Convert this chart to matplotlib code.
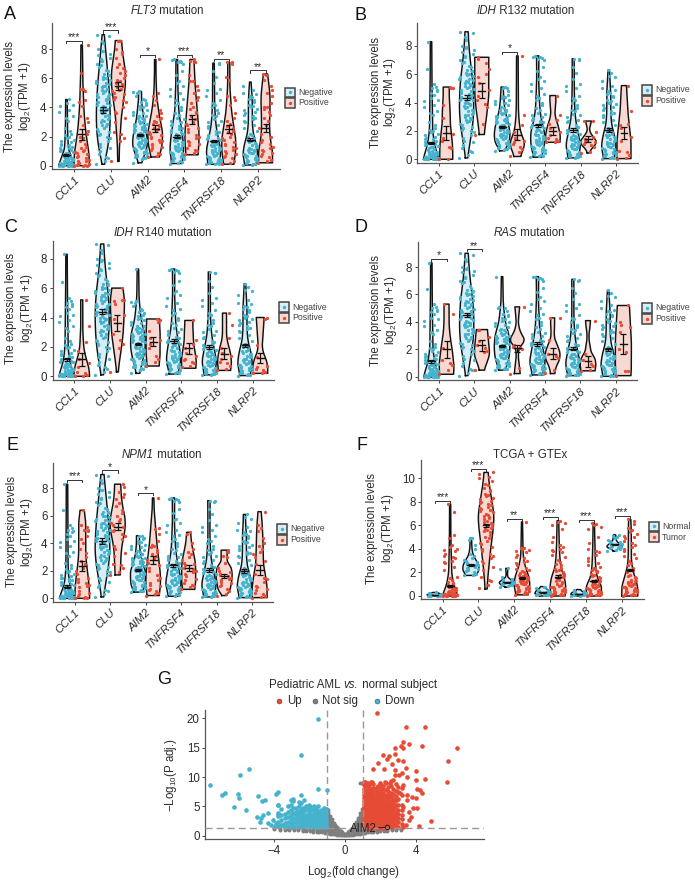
import numpy as np
import matplotlib
matplotlib.use("Agg")
import matplotlib.pyplot as plt
from matplotlib.patches import Rectangle

plt.rcParams['font.family'] = ['Liberation Sans', 'DejaVu Sans']
plt.rcParams['mathtext.default'] = 'regular'

GENES = ['CCL1', 'CLU', 'AIM2', 'TNFRSF4', 'TNFRSF18', 'NLRP2']

# ---- points of the large "negative" group, shared by the mutation panels
NEG_CCL1 = [8.3,6.4,5.3,5.1,5.0,4.9,4.8,4.7,4.55,4.3,4.2,4.1,3.8,3.7,3.4,3.3,3.1,2.6,2.4,2.2,2.1,2.0,1.9,1.8,1.7,1.6,1.5,1.45,1.4,1.3,1.25,1.2,1.1,1.05,1.0,.95,.9,.85,.8,.75,.7,.65,.6,.55,.5,.48,.45,.4,.38,.35,.33,.3,.28,.25,.22,.2,.18,.16,.15,.12,.1,.09,.08,.06,.05,.04,.03,.02,.01,0,0,0,0,0]
NEG_CLU = [9.0,8.9,8.6,8.4,8.0,7.9,7.85,7.7,7.6,7.4,7.3,7.2,7.0,6.9,6.8,6.6,6.5,6.3,6.25,6.2,6.1,6.0,5.95,5.9,5.8,5.7,5.65,5.6,5.5,5.45,5.4,5.3,5.25,5.2,5.1,5.0,4.95,4.9,4.8,4.75,4.7,4.6,4.55,4.5,4.4,4.35,4.3,4.2,4.15,4.1,4.0,3.95,3.9,3.8,3.75,3.7,3.6,3.5,3.45,3.4,3.3,3.2,3.15,3.1,3.0,2.9,2.85,2.8,2.7,2.6,2.5,2.4,2.3,2.2,2.1,2.0,1.9,1.7,1.5,1.3,1.2,1.0,.8,.6,.5,.3,.1]
NEG_AIM2 = [7.3,5.1,5.05,5.0,4.8,4.55,4.5,4.4,4.3,4.2,4.1,4.0,3.9,3.8,3.7,3.6,3.5,3.45,3.4,3.3,3.25,3.2,3.1,3.05,3.0,2.95,2.9,2.85,2.8,2.75,2.7,2.65,2.6,2.55,2.5,2.45,2.4,2.35,2.3,2.25,2.2,2.15,2.1,2.05,2.0,1.95,1.9,1.85,1.8,1.75,1.7,1.65,1.6,1.55,1.5,1.45,1.4,1.35,1.3,1.25,1.2,1.15,1.1,1.05,1.0,.95,.9,.85,.8,.75,.7,.65,.6,.55,.5,.45,.2]
NEG_TF4 = [7.3,7.25,7.2,7.15,7.1,7.0,6.5,6.2,5.8,5.7,5.5,5.3,5.0,4.8,4.6,4.5,4.3,4.2,4.0,3.8,3.6,3.5,3.3,3.2,3.1,3.0,2.9,2.8,2.7,2.6,2.5,2.45,2.4,2.35,2.3,2.2,2.15,2.1,2.0,1.95,1.9,1.8,1.75,1.7,1.65,1.6,1.5,1.45,1.4,1.35,1.3,1.25,1.2,1.15,1.1,1.05,1.0,.95,.9,.85,.8,.75,.7,.65,.6,.55,.5,.45,.4,.35,.3,.25,.2,.15]
NEG_TF18 = [7.1,7.05,7.0,6.5,6.1,5.7,5.3,5.2,5.0,4.8,4.5,4.3,4.2,4.0,3.8,3.6,3.5,3.4,3.2,3.1,3.0,2.8,2.7,2.6,2.4,2.3,2.2,2.1,2.0,1.9,1.85,1.8,1.7,1.65,1.6,1.55,1.5,1.45,1.4,1.35,1.3,1.25,1.2,1.15,1.1,1.05,1.0,.95,.9,.85,.8,.75,.7,.65,.6,.55,.5,.45,.4,.38,.35,.3,.28,.25,.22,.2,.18,.15,.12,.1]
NEG_NLRP2 = [6.3,6.1,5.9,5.8,5.5,5.2,5.0,4.9,4.8,4.7,4.6,4.5,4.4,4.2,4.1,4.0,3.9,3.8,3.7,3.6,3.5,3.4,3.3,3.2,3.1,3.0,2.8,2.6,2.4,2.2,2.1,2.0,1.9,1.8,1.75,1.7,1.6,1.55,1.5,1.4,1.35,1.3,1.2,1.15,1.1,1.05,1.0,.95,.9,.85,.8,.75,.7,.65,.6,.55,.5,.45,.4,.35,.3,.25,.2,.15,.1,.08,.05]
NEG_POINTS = [NEG_CCL1, NEG_CLU, NEG_AIM2, NEG_TF4, NEG_TF18, NEG_NLRP2]

# ---- Panel A: FLT3
A_NEG_RANGE = [(0,4.55),(.1,9),(.2,5.1),(.15,7.3),(.1,7.05),(.05,5.75)]
A_NEG_PROFILE = [[8,5,2,1.5,1.2,1,1,1,.7],[1,4.5,6.5,7,6.5,5.5,4,2.5,1],[1.5,5,7.5,7,5,3.5,2.5,1.5,1.5],[5,7,6,4,2,1.5,1,1,.8],[5.5,7.5,5,2.5,1.5,1,1,1,.7],[5.5,7.5,6,3,2,2,2,1.5,.7]]
A_NEG_MEAN = [.75,3.85,2.1,2.0,1.7,1.8]
A_NEG_SEM = [.08,.2,.08,.12,.1,.1]
A_POS_RANGE = [(0,8.3),(.3,8.6),(.6,7.3),(.75,7.3),(.1,7.1),(.2,6.3)]
A_POS_PROFILE = [[8,7,4.5,3,2,1.5,1,1,.7],[.7,1,2,3,5,7,7,4.5,3],[4,7,7.5,5,3,1.5,1,.7,.7],[6,7,7,6,5,4,3,2.5,2],[5,7,7,5,3,2,1.2,1,1],[7,7,5,4,4,4.5,4.5,3.5,2]]
A_POS_MEAN = [2.15,5.5,2.55,3.2,2.5,2.6]
A_POS_SEM = [.35,.27,.25,.3,.28,.3]
A_POS_POINTS = [
 [8.3,6.4,5.3,5.25,5.1,4.5,4.4,4.1,3.4,3.3,3.0,2.8,2.4,2.2,2.0,1.9,1.7,1.5,1.3,1.2,1.1,1.0,.95,.9,.8,.7,.6,.5,.4,.35,.3,.2,.15,.1,.05,.02,0,0,0],
 [8.6,8.6,8.0,7.8,7.7,7.4,7.0,6.8,6.7,6.5,6.4,6.2,6.0,5.9,5.8,5.7,5.6,5.5,5.4,5.3,5.2,5.1,5.0,4.9,4.7,4.6,4.5,4.4,4.0,3.7,3.6,3.3,3.0,2.3,2.2,1.9,1.7,.3],
 [7.3,5.0,4.8,4.5,4.2,3.8,3.6,3.4,3.3,3.2,3.1,3.0,2.9,2.8,2.7,2.6,2.5,2.4,2.3,2.2,2.1,2.0,1.9,1.8,1.7,1.6,1.5,1.4,1.3,1.2,1.1,.9,.8,.7,.6],
 [7.3,7.2,7.1,7.1,6.2,5.8,5.8,5.5,5.2,5.0,4.7,4.5,4.3,4.0,3.9,3.7,3.6,3.4,3.2,3.0,2.9,2.8,2.6,2.5,2.3,2.1,2.0,1.9,1.7,1.6,1.5,1.4,1.2,1.1,1.0,.9,.8],
 [7.1,7.1,7.0,6.1,5.9,4.8,4.7,4.5,4.2,3.6,3.3,3.1,2.9,2.7,2.6,2.4,2.3,2.2,2.0,1.9,1.8,1.6,1.5,1.4,1.3,1.2,1.1,1.0,.9,.8,.7,.6,.5,.3,.2,.1],
 [6.3,6.2,5.9,5.5,5.2,5.0,4.8,4.3,4.0,4.0,3.9,3.7,3.5,3.3,3.1,2.8,2.6,2.2,2.0,1.8,1.6,1.5,1.3,1.2,1.1,1.0,.9,.8,.7,.6,.4,.3,.2],
]
A_BRACKET_Y = [8.6,9.3,7.6,7.6,7.35,6.55]
A_STARS = ['***','***','*','***','**','**']

# ---- Panel B: IDH R132
B_NEG_RANGE = [(0,8.3),(.1,9),(.6,5.1),(.15,7.3),(.1,7.1),(.05,6.3)]
B_NEG_PROFILE = [[8,3.5,1.5,1.3,1.2,1,.8,.8,.7],[1,3.5,6,7.2,7,6,4,2.5,1.5],[2,7,8,7,5,3,2,1.5,1],[4,7,7,3.5,2,1.5,1,1,1.2],[5,7.5,5,2.5,1.5,1.2,1,1,1],[5,7.5,6,3,2,2,2,1.3,.7]]
B_NEG_MEAN = [1.15,4.35,2.27,2.4,2.05,2.05]
B_NEG_SEM = [.1,.17,.07,.12,.13,.13]
B_POS_RANGE = [(0,5.1),(1.75,7.2),(.2,7.3),(1.2,4.5),(.45,2.7),(.05,5.2)]
B_POS_PROFILE = [[6.5,6.5,6,5,4,4,3.5,3,3],[2.5,3.5,5,6,7,7,7,7,7],[3,8,3,1.5,1,1,1,.8,.8],[7,7.5,6.5,5,3,2,2.5,3,3],[1,3,7,8,5,2,1,2,3],[7,7,7,6,5,4,3.5,3,2.5]]
B_POS_MEAN = [1.85,4.85,1.75,2.0,1.45,1.85]
B_POS_SEM = [.5,.5,.4,.28,.22,.42]
B_POS_POINTS = [
 [5.1,5.05,5.05,3.8,2.9,1.8,1.5,1.3,.9,.8,0,0],
 [7.2,7.1,6.8,6.4,6.0,5.8,5.4,4.9,4.5,4.2,3.9,3.7,2.5,1.75],
 [7.3,3.1,2.4,1.9,1.5,1.3,1.2,1.1,.9,.7,.5,.2],
 [4.5,3.1,2.8,2.5,2.2,1.9,1.7,1.5,1.4,1.3,1.25,1.2],
 [2.7,2.7,1.9,1.6,1.4,1.3,1.25,1.2,1.1,1.0,.9,.5,.45],
 [5.2,3.4,2.5,2.4,2.2,1.6,1.3,.6,.5,.3,.1,.05],
]
B_BRACKET_Y = [None,None,7.6,None,None,None]
B_STARS = ['','','*','','','']

# ---- Panel C: IDH R140
C_NEG_RANGE = [(0,8.3),(.1,9),(.2,7.3),(.15,7.3),(.1,7.1),(.05,6.3)]
C_NEG_PROFILE = [[8,3,1.5,1.3,1.2,1,.8,.8,.7],[1,4,6,7,7,6,4,2.5,1.5],[1.5,5,7.5,7,3.5,2,1,1,.7],[4,7.5,6,3.5,2,1.5,1,1,1.2],[5,7.5,5,2.5,1.5,1,1,1,1],[5,7.5,6,3,2,2,2,1.3,.7]]
C_NEG_MEAN = [1.15,4.4,2.2,2.4,2.0,2.1]
C_NEG_SEM = [.1,.15,.08,.12,.12,.12]
C_POS_RANGE = [(0,5.2),(.3,6),(.7,3.9),(.55,3.8),(.4,4.3),(.2,4)]
C_POS_PROFILE = [[8,7,4,2,1.5,1,1,1,1],[.8,2,3.5,5,6,6.5,7,7,5.5],[6,6.5,7,7,7,7,7,6.5,6.5],[7,7.5,7,6,5,4.5,4.5,4,4],[6,7,6.5,5,3,2,2,2,2],[7.5,7.5,6,3,2,2.5,3,3.5,4]]
C_POS_MEAN = [1.15,3.6,2.35,1.9,1.55,1.25]
C_POS_SEM = [.45,.55,.3,.35,.38,.35]
C_POS_POINTS = [
 [5.2,3.4,2.3,1.7,1.2,.9,.6,.3,.2,.1,0,0],
 [6.0,5.2,5.2,5.1,4.9,4.2,3.9,2.9,2.5,2.2,1.9,.3],
 [3.9,3.8,3.7,3.1,2.6,2.5,2.2,1.9,1.4,1.2,1.0,.7],
 [3.8,2.5,2.2,1.9,1.6,1.4,1.2,1.1,1.0,.9,.7,.6],
 [4.3,3.5,2.6,1.9,1.6,1.4,1.2,1.0,.9,.7,.5,.4],
 [4.0,3.9,2.1,1.3,.7,.6,.5,.4,.3,.25,.2],
]

# ---- Panel D: RAS
D_NEG_RANGE = [(0,8.3),(.1,9),(.5,7.3),(.15,7.3),(.1,7.1),(.05,6.3)]
D_NEG_PROFILE = [[8,3.5,1.5,1.3,1.2,1,.8,.8,.7],[1,3.5,6,7.2,7,6,4,2.5,1.5],[3,7,8,7,3.5,2,1,1,.7],[5,8,6,3.5,2,1.5,1,1,1.2],[5,7.5,5,2.5,1.5,1,1,1,1],[5,7.5,6,3,2,2,2,1.3,.7]]
D_NEG_MEAN = [1.15,4.5,2.25,2.4,2.05,2.0]
D_NEG_SEM = [.1,.17,.07,.12,.12,.12]
D_POS_RANGE = [(.2,5.3),(.5,3.45),(.25,5.1),(.25,4.3),(.45,4.1),(.1,5.2)]
D_POS_PROFILE = [[7,7.5,6.5,5.5,4,3,2.5,2.5,2.5],[2.5,4,6,7.5,7.5,7,6.5,6,5.5],[3,2,1,1.5,8,3,1,1.5,2.5],[2,3.5,7,7.5,5,2,1.5,2,2],[7,8,7,3,2,1,1,2,2.5],[7.5,8,8,8,8,7.5,7,6.5,6]]
D_POS_MEAN = [2.0,2.3,2.1,1.7,1.15,2.4]
D_POS_SEM = [.65,.4,.25,.42,.4,.7]
D_POS_POINTS = [
 [5.3,4.6,2.1,1.2,1.0,.9,.5,.2],
 [3.45,3.4,2.9,2.6,2.3,2.1,1.9,1.8,.5],
 [5.1,2.3,2.2,2.1,2.05,.65,.25],
 [4.3,4.3,2.7,1.7,1.5,1.4,.5,.3],
 [4.1,1.7,1.2,.95,.8,.5,.45,.4,.35],
 [5.2,4.0,3.8,3.6,3.3,2.0,1.8,.45,.4,.1],
]
D_BRACKET_Y = [8.58,9.29,None,None,None,None]
D_STARS = ['*','**','','','','']

# ---- Panel E: NPM1
E_NEG_RANGE = [(0,8.3),(.1,9),(.45,4.55),(.15,7.3),(.1,7.1),(.05,6.1)]
E_NEG_PROFILE = [[8,2.5,1.2,1,1,.8,.8,.8,.7],[1,3.5,6,7.5,7,6,4.5,3,1.5],[4,7,7.5,7.5,5,3,2,1.5,1.5],[5,8,6,3.5,2,1.5,1,1,1.2],[5,7.5,5,2.5,1.5,1,1,1,1.2],[5,7.5,6,3,2,2,2,1.3,1]]
E_NEG_MEAN = [.85,4.15,2.05,2.4,2.05,2.0]
E_NEG_SEM = [.1,.2,.08,.13,.13,.13]
E_POS_RANGE = [(0,6.4),(1.7,8.3),(.2,7.3),(.65,4.8),(.2,3.5),(.05,6.3)]
E_POS_PROFILE = [[7.5,7,6,4.5,3.5,3.5,3.5,3.5,2],[2.5,3,3.5,5,7.5,7.5,5,3.5,3],[6,7.5,7,5.5,4,3,2,1,.7],[6,7,7,7,6.5,5,3.5,2.5,2],[2,6,7,8,8,7,3,3,3],[7.5,7.5,6,4,3.5,3.5,3,2.5,1.5]]
E_POS_MEAN = [2.35,5.2,2.8,2.2,1.6,2.05]
E_POS_SEM = [.35,.25,.3,.23,.15,.35]
E_POS_POINTS = [
 [6.4,5.3,5.2,5.0,5.0,4.9,4.5,4.3,4.0,3.6,3.3,3.0,2.7,2.5,2.2,2.0,1.8,1.5,1.4,1.2,1.1,1.0,.9,.8,.5,.4,.3,.2,.1,.05,0,0],
 [8.3,8.1,7.7,7.6,7.4,7.2,6.9,6.7,6.4,6.2,6.0,5.8,5.6,5.5,5.3,5.2,5.0,4.9,4.7,4.5,4.3,3.8,3.6,3.3,3.1,2.5,2.4,2.2,1.9,1.7],
 [7.3,5.1,5.05,4.7,4.2,3.9,3.8,3.7,3.5,3.4,3.2,3.1,2.9,2.8,2.6,2.4,2.2,2.0,1.7,1.5,1.3,1.1,1.0,.9,.7,.6,.5,.4,.3,.2],
 [4.8,4.7,4.0,3.6,3.4,3.2,3.0,2.8,2.6,2.5,2.4,2.2,2.1,2.0,1.9,1.8,1.6,1.4,1.3,1.1,1.0,.9,.8,.65],
 [3.5,3.4,3.1,3.0,2.6,2.2,2.0,1.9,1.8,1.7,1.6,1.5,1.4,1.3,1.2,1.1,1.0,.9,.7,.5,.3,.2],
 [6.3,5.3,5.1,4.9,4.4,4.0,3.8,3.6,3.4,3.2,3.0,2.7,2.5,1.8,1.5,1.4,1.2,.9,.8,.7,.6,.4,.3,.2,.1,.05],
]
E_BRACKET_Y = [8.6,9.3,7.64,None,None,None]
E_STARS = ['***','*','*','','','']

# ---- Panel F: TCGA + GTEx
F_NEG_RANGE = [(0,.3),(1.75,4.95),(.75,2.35),(0,.8),(0,.55),(3.8,5.2)]
F_NEG_PROFILE = [[7,8,5,2],[5,8,8,6,3,1.5,1,.8,.7],[1,6,8,5,1.5,.7,.7,1,1],[3,8,7,4,2],[3,8,7,3,2],[1,3,8,7,4,2,1.5,1.5,1]]
F_NEG_MEAN = [.08,2.65,1.15,.3,.15,4.4]
F_NEG_SEM = [.01,.06,.03,.02,.015,.03]
F_NEG_POINTS = [
 [.3,.25,.2,.18,.15,.12,.1,.1,.08,.07,.06,.05,.05,.04,.03,.03,.02,.01],
 [4.95,4.9,4.8,4.3,4.0,3.6,3.4,3.2,3.1,3.0,2.9,2.8,2.7,2.6,2.6,2.5,2.4,2.4,2.3,2.2,2.1,2.0,1.9,1.8,1.75],
 [2.35,2.3,1.6,1.45,1.35,1.3,1.25,1.2,1.2,1.15,1.1,1.1,1.05,1.0,.95,.9,.85,.75],
 [.8,.75,.65,.55,.5,.45,.4,.35,.33,.3,.28,.25,.22,.2,.18,.15,.12,.1,.05],
 [.55,.45,.38,.3,.27,.22,.2,.18,.16,.14,.12,.1,.08,.06,.04,.02],
 [5.2,5.1,5.0,4.9,4.8,4.7,4.6,4.55,4.5,4.45,4.4,4.35,4.3,4.25,4.2,4.15,4.1,4.05,4.0,3.9,3.8],
]
F_POS_RANGE = [(0,7.8),(.6,10.5),(.1,6.3),(0,6.4),(0,6.2),(0,6.5)]
F_POS_PROFILE = [[8,3.5,1.5,1.2,1,.7,.7,.7,.5],[1,2,3.5,5,7,8,6,3.5,2],[6,8,7,3.5,1.5,1,.8,.7,.5],[7,8,6.5,3,2,1.5,1.2,1,.8],[7,8,3.5,2,1.5,1.2,1,.8,.7],[8,8,5,2.5,1.5,1.5,1.5,1.5,1]]
F_POS_MEAN = [.85,6.0,1.55,1.65,1.25,2.2]
F_POS_SEM = [.12,.15,.08,.1,.08,.1]
F_POS_POINTS = [
 [7.8,7.1,5.2,4.9,4.3,4.2,4.0,3.9,3.8,3.6,3.4,3.3,3.2,3.0,2.9,2.8,2.5,2.2,1.6,1.5,1.4,1.2,1.1,1.0,.9,.85,.8,.7,.65,.6,.55,.5,.45,.4,.35,.3,.28,.25,.22,.2,.18,.16,.14,.12,.1,.1,.08,.08,.06,.06,.05,.04,.03,.02,.01,0,0],
 [10.5,10.4,10.1,10.0,9.8,9.5,9.4,9.2,9.0,8.9,8.7,8.6,8.5,8.3,8.2,8.1,8.0,7.9,7.8,7.7,7.6,7.5,7.4,7.3,7.2,7.1,7.0,6.9,6.8,6.7,6.6,6.5,6.4,6.3,6.2,6.1,6.0,5.9,5.8,5.7,5.6,5.5,5.4,5.2,5.0,4.9,4.7,4.5,4.4,4.2,4.0,3.8,3.6,3.4,3.2,3.0,2.8,2.5,2.2,1.6,1.4,1.3,.9,.7],
 [6.3,4.1,4.05,4.0,3.9,3.8,3.7,3.5,3.3,3.2,3.0,2.9,2.8,2.6,2.4,2.3,2.2,2.1,2.0,1.95,1.9,1.8,1.75,1.7,1.65,1.6,1.55,1.5,1.45,1.4,1.35,1.3,1.25,1.2,1.15,1.1,1.05,1.0,.95,.9,.85,.8,.75,.7,.65,.6,.55,.5,.45,.4,.35,.3,.25,.2,.1],
 [6.4,6.3,6.2,6.0,5.7,5.0,4.6,4.3,4.2,4.0,3.9,3.8,3.7,3.5,3.3,3.1,2.9,2.7,2.6,2.4,2.3,2.2,2.1,2.0,1.9,1.8,1.7,1.6,1.5,1.4,1.3,1.2,1.1,1.0,.9,.85,.8,.75,.7,.65,.6,.55,.5,.45,.4,.35,.3,.25,.2,.15,.1,.05,0],
 [6.2,6.1,6.0,5.9,5.7,5.0,4.5,4.0,3.8,3.7,3.5,3.2,3.0,2.8,2.6,2.5,2.4,2.3,2.2,2.1,2.0,1.9,1.8,1.7,1.6,1.5,1.4,1.3,1.2,1.1,1.0,.95,.9,.85,.8,.75,.7,.65,.6,.55,.5,.45,.4,.35,.3,.25,.2,.18,.15,.12,.1,.08,.05,.02],
 [6.5,6.4,6.1,5.8,5.6,5.4,5.3,5.1,5.0,4.9,4.7,4.5,4.3,4.2,4.0,3.8,3.6,3.4,3.2,3.0,2.8,2.6,2.4,2.2,2.0,1.8,1.7,1.6,1.5,1.4,1.3,1.25,1.2,1.15,1.1,1.05,1.0,.95,.9,.85,.8,.75,.7,.65,.6,.55,.5,.45,.4,.35,.3,.25,.2,.15,.1,.05,0],
]
F_BRACKET_Y = [8.07,10.8,6.54,6.74,6.46,6.8]
F_STARS = ['***','***','**','***','***','***']

# ---- Panel G: volcano, read column by column in the dense areas
UP_DENSE_X = [1.06,1.2,1.33,1.47,1.6,1.74,1.88,2.02,2.16,2.3,2.44,2.58,2.72,2.86,3.02,3.2]
UP_DENSE_Y = [
 [1.4,1.9,2.4,2.9,3.4,3.9,4.4,4.9,5.4,5.9,6.4,6.9,7.5,8.0,8.6,9.2],
 [1.35,1.7,2.2,2.7,3.2,3.7,4.2,4.7,5.2,5.7,6.2,6.7,7.2,7.8,8.4,9.0],
 [1.3,1.85,2.35,2.85,3.35,3.85,4.35,4.85,5.35,5.85,6.35,6.9,7.4,8.1,8.7],
 [1.4,1.7,2.2,2.7,3.2,3.7,4.2,4.7,5.2,5.7,6.2,6.7,7.3,7.9,9.2],
 [1.3,1.9,2.4,2.9,3.4,3.9,4.4,4.9,5.4,5.9,6.4,7.0,7.6,8.2,8.8],
 [1.35,1.75,2.25,2.75,3.25,3.75,4.25,4.75,5.25,5.75,6.3,6.8,7.4,8.0],
 [1.3,1.9,2.4,2.9,3.4,3.9,4.4,4.9,5.4,5.9,6.5,7.0,7.7,8.5],
 [1.4,1.75,2.25,2.75,3.25,3.75,4.25,4.75,5.25,5.75,6.2,6.8,7.3,7.9,8.6],
 [1.3,1.9,2.4,2.9,3.4,3.9,4.4,4.9,5.4,6.0,6.6,7.2,8.0,8.4],
 [1.35,1.75,2.3,2.8,3.3,3.8,4.3,4.8,5.3,5.8,6.4,7.0,7.8,9.0],
 [1.4,1.95,2.45,2.95,3.45,3.95,4.45,5.0,5.6,6.2,6.9,7.6,8.3],
 [1.5,2.0,2.5,3.0,3.6,4.1,4.7,5.2,5.9,6.6,7.2,8.4,9.4],
 [1.6,2.1,2.6,3.2,3.7,4.3,4.9,5.6,6.3,7.1,7.9],
 [1.6,2.2,2.8,3.4,4.0,4.6,5.3,6.0,6.7,7.6,8.8],
 [1.5,2.3,3.0,3.7,4.4,5.2,6.2,7.5],
 [2.0,2.8,3.6,4.3,5.3,7.0,8.2],
]
UP_SCATTER_X = [1.83,3.43,4.55,6.34,5.85,5.79,4.87,4.19,3.3,3.64,3.3,4.38,3.15,2.83,2.17,2.83,2.5,2.36,3.02,3.26,1.87,2.64,1.6,2.2,3.47,2.83,4.02,3.2,2.83,3.08,4.55,3.49,4.0,4.25,4.06,4.34,3.8,3.5,4.0,3.87,4.06,3.74,3.6,3.45,3.3,3.02,3.3,2.55,2.26,1.98,1.5,1.32,1.13,2.74,1.8,3.5,3.3,3.6,3.1,2.9]
UP_SCATTER_Y = [20.85,18.6,18.6,14.9,12.8,9.2,2.5,1.65,15,15.7,16,15.35,15.3,14.9,13.75,14,13.6,13,12.9,12.7,12.3,12.2,11.3,11.4,11.5,11.2,11,10.6,10.3,10.3,9.7,10,9.5,7.8,7.9,7.2,6.6,6.9,6.4,4.65,4.65,3.2,2.7,1.8,1.5,8.35,8.6,8.9,9.2,8.9,9.2,9,9.2,9.5,8.3,6.1,4.9,4.1,7.2,6]
DOWN_DENSE_X = [-1.07,-1.2,-1.35,-1.5,-1.62,-1.77,-1.9,-2.05,-2.2,-2.35,-2.48,-2.62,-2.78,-2.92,-3.08,-3.25,-3.42,-3.6,-3.78]
DOWN_DENSE_Y = [
 [1.4,1.9,2.4,2.9,3.4,3.9,4.6],
 [1.5,2.1,2.6,3.1,3.7,4.2,4.8],
 [1.4,1.8,2.3,2.8,3.3,3.9,4.4],
 [1.5,2.0,2.6,3.1,3.6,4.2,5.1],
 [1.4,1.9,2.4,2.9,3.5,4.0,4.7],
 [1.5,2.1,2.6,3.2,3.8,4.4,5.0],
 [1.4,1.9,2.4,3.0,3.5,4.3,4.9],
 [1.6,2.2,2.7,3.3,3.9,4.5,5.3],
 [1.4,1.9,2.5,3.1,3.6,4.4,5.0],
 [1.6,2.2,2.8,3.4,4.0,4.7],
 [1.4,1.9,2.5,3.2,3.8,4.5,5.5],
 [1.7,2.3,3.0,3.6,4.2,5.0,5.8],
 [1.5,2.1,2.8,3.5,4.1,4.8],
 [1.8,2.4,3.1,3.9,4.7,5.9],
 [1.5,2.1,2.8,3.5,4.3,5.2,6.0],
 [1.7,2.4,3.2,4.0,5.0],
 [1.5,2.1,3.0,3.7],
 [1.8,2.6,3.5,4.5],
 [1.6,2.4,3.3,3.9,5.2],
]
DOWN_SCATTER_X = [-1.55,-2.5,-5.43,-5.92,-7.64,-6.8,-6.96,-6.04,-6.0,-6.28,-5.58,-4.92,-4.53,-4.7,-3.81,-3.9,-2.5,-1.55,-1.04,-5.0,-4.66,-4.77,-4.81,-4.34,-4.34,-4.06,-3.77,-3.8,-3.9,-3.95,-4.2,-3.55,-2.95,-2.3]
DOWN_SCATTER_Y = [19.95,13.75,11.35,10.4,8.6,7.2,7.0,7.1,6.4,4.95,4.4,6.75,6.1,5.9,7.5,7.05,7.0,7.95,7.8,3.25,3.5,2.95,2.27,3.9,2.1,2.67,5.2,3.7,2.2,1.7,1.8,1.8,6.2,6.1]
GREY_X = [-4.0,-3.7,-3.4,-3.15,-2.9,-2.65,-2.4,-2.2,-2.0,-1.8,-1.6,-1.45,-1.3,-1.15,-1.03,-.95,-.85,-.75,-.65,-.55,-.45,-.35,-.25,-.15,-.05,.05,.15,.25,.35,.45,.55,.65,.75,.85,.95,1.03,1.15,1.3,1.45,1.6,1.8,2.0,2.2,2.4,2.65,2.9,3.15]
GREY_Y = [
 [1.15,1.25],[1.05,1.2],[1.05,1.25],[1.0,1.2],[.95,1.15],[.9,1.1,1.25],[.85,1.05,1.25],[.8,1.0,1.2],[.75,.95,1.2],[.7,.9,1.1],[.65,.85,1.05,1.25],[.6,.8,1.05,1.2],[.55,.75,1.0,1.2],[.5,.75,1.0,1.2],
 [.45,.7,1.0,1.3,1.7,2.1,2.5,2.9,3.3,3.7,4.1,4.5],[.4,.7,1.0,1.3,1.7,2.1,2.5,2.9,3.3,3.7,4.1,4.4],[.35,.65,.95,1.3,1.7,2.1,2.5,2.9,3.3],[.3,.6,.95,1.3,1.6,2.0,2.4,2.8],[.3,.55,.85,1.2,1.5,1.9,2.2],[.25,.5,.8,1.1,1.4,1.7,1.9],[.2,.45,.7,1.0,1.4],[.15,.4,.6,.9,1.1],[.12,.3,.5,.7,.85],[.1,.25,.4,.55],[.05,.2,.3,.35],
 [.05,.2,.3,.35],[.1,.25,.4,.55],[.12,.3,.5,.7,.85],[.15,.4,.6,.9,1.1],[.2,.45,.7,1.0,1.4],[.25,.5,.8,1.1,1.4,1.7,2.0],[.3,.55,.85,1.2,1.6,2.0,2.4],[.3,.6,1.0,1.3,1.7,2.1,2.6,3.1],[.35,.65,.95,1.3,1.7,2.1,2.6,3.0,3.4,3.8,8.9],[.4,.7,1.0,1.3,1.7,2.1,2.5,2.9,3.3,3.7,4.1,4.5,9.0],
 [.45,.7,1.0,1.25],[.5,.75,1.0,1.2],[.55,.75,1.0,1.2],[.6,.8,1.05,1.2],[.65,.85,1.05,1.25],[.7,.9,1.1],[.75,.95,1.2],[.8,1.0,1.2],[.85,1.05,1.25],[.9,1.1,1.25],[.95,1.15],[1.0,1.2]]
GREY_EXTRA_X = [-3.2]
GREY_EXTRA_Y = [1.1]
AIM2_FC = 2.4
AIM2_P = 1.42
FC_CUTS = [-1, 1]
P_CUT = 1.3

BLUE, RED, GREY = '#45B2CE', '#E64B35', '#7F7F7F'
BLUE_L, RED_L = '#D8EEF4', '#F9D8D2'
TXT = '#2b2b2b'
FS = 8.3
W, H = 695, 881
fig = plt.figure(figsize=(W/100, H/100), dpi=100)
ov = fig.add_axes([0, 0, 1, 1], zorder=10)
ov.set_xlim(0, W); ov.set_ylim(H, 0); ov.axis('off')
RENDERER = fig.canvas.get_renderer()


def mixed_title(cx, cy, parts):
    """Centre a run of (string, style) pieces on one line."""
    widths = []
    items = []
    for s, st in parts:
        t = ov.text(0, cy, s, ha='left', va='center', fontsize=FS, color=TXT, style=st)
        widths.append(t.get_window_extent(RENDERER).width)
        items.append(t)
    x = cx - sum(widths)/2
    for t, w in zip(items, widths):
        t.set_x(x)
        x += w


def base_axes(l, r, t, b, y0, ppu):
    ax = fig.add_axes([l/W, 1-b/H, (r-l)/W, (b-t)/H])
    ax.set_ylim((y0-b)/ppu, (y0-t)/ppu)
    for s in ('top', 'right'):
        ax.spines[s].set_visible(False)
    for s in ('left', 'bottom'):
        ax.spines[s].set_color('#555555'); ax.spines[s].set_linewidth(.9)
    ax.tick_params(length=2.5, width=.7, color='#444444', labelcolor=TXT, labelsize=FS, pad=1.5)
    return ax


def profile(lo, hi, widths):
    y = np.linspace(lo, hi, 120)
    knots = np.linspace(lo, hi, len(widths))
    w = np.interp(y, knots, widths)
    k = 13
    w = np.convolve(np.pad(w, k//2, mode='edge'), np.ones(k)/k, mode='valid')
    return y, w


def violin(ax, xc, rng, widths, mean, sem, pts, unit, fill, col):
    lo, hi = rng
    y, w = profile(lo, hi, widths)
    w = w/unit
    ax.fill_betweenx(y, xc-w, xc+w, color=fill, lw=0, zorder=1)
    ax.plot(np.r_[xc-w, (xc+w)[::-1], xc-w[0]], np.r_[y, y[::-1], y[0]], color='#111111', lw=1.05, zorder=2, solid_joinstyle='round')
    keep = sorted([p for p in pts if lo-.01 <= p <= hi+.01])
    # sideways position only: a quadratic golden-ratio stride spreads the dots across the strip
    jit = np.array([((i*(i+1)*0.309017) % 1)*2-1 for i in range(len(keep))])
    ax.scatter(xc+jit*7.2/unit, keep, s=5.5, color=col, lw=0, zorder=3)
    ax.errorbar([xc], [mean], yerr=[sem], color='#111111', lw=.9, capsize=2.0, capthick=.9, zorder=4)
    ax.plot([xc-3.4/unit, xc+3.4/unit], [mean, mean], color='#111111', lw=1.0, zorder=4)


def panel(rect, y0, ppu, yticks, neg, pos, title, letter, ylab, leg, names=('Negative', 'Positive'), brackets=None, stars=None):
    l, r, t, b = rect
    ax = base_axes(l, r, t, b, y0, ppu)
    ax.set_xlim(-.6, 5.6)
    unit = (r-l)/6.2
    off = 7.6/unit
    for i in range(6):
        violin(ax, i-off, neg[0][i], neg[1][i], neg[2][i], neg[3][i], neg[4][i], unit, BLUE_L, BLUE)
        violin(ax, i+off, pos[0][i], pos[1][i], pos[2][i], pos[3][i], pos[4][i], unit, RED_L, RED)
        if brackets and brackets[i] is not None:
            yb = brackets[i]; d = 2.2/ppu
            ax.plot([i-off, i-off, i+off, i+off], [yb-d, yb, yb, yb-d], color='#333333', lw=.7, zorder=5, clip_on=False)
            ax.text(i, yb+3.6/ppu, stars[i], ha='center', va='center', fontsize=7.5, color=TXT, clip_on=False, zorder=5)
    ax.set_yticks(yticks)
    ax.set_xticks(range(6))
    ax.set_xticklabels(GENES, rotation=45, ha='right', va='top', rotation_mode='anchor', style='italic', fontsize=8.2)
    mixed_title(*title)
    ov.text(letter[1], letter[2], letter[0], ha='left', va='center', fontsize=13, color='#111111')
    ov.text(ylab[0], ylab[2], 'The expression levels', rotation=90, ha='center', va='center', fontsize=FS, color=TXT)
    ov.text(ylab[1], ylab[2], 'log$_{2}$(TPM +1)', rotation=90, ha='center', va='center', fontsize=FS, color=TXT)
    lx, ly1, ly2 = leg
    for yy, nm, fill, col in ((ly1, names[0], BLUE_L, BLUE), (ly2, names[1], RED_L, RED)):
        ov.add_patch(Rectangle((lx, yy), 9.5, 9.5, fc=fill, ec='#444444', lw=1.1))
        ov.scatter([lx+4.75], [yy+4.75], s=6, color=col, lw=0)
        ov.text(lx+13, yy+4.9, nm, ha='left', va='center', fontsize=6.3, color='#444444')
    return ax


panel((52, 280, 23, 169), 165.7, 14.55, [0, 2, 4, 6, 8],
      (A_NEG_RANGE, A_NEG_PROFILE, A_NEG_MEAN, A_NEG_SEM, NEG_POINTS),
      (A_POS_RANGE, A_POS_PROFILE, A_POS_MEAN, A_POS_SEM, A_POS_POINTS),
      (167, 11, [('FLT3', 'italic'), (' mutation', 'normal')]), ('A', 4, 14.7), (10, 25, 96), (285, 87.5, 98),
      brackets=A_BRACKET_Y, stars=A_STARS)
panel((417.3, 637.7, 23, 162.7), 159.3, 14.17, [0, 2, 4, 6, 8],
      (B_NEG_RANGE, B_NEG_PROFILE, B_NEG_MEAN, B_NEG_SEM, NEG_POINTS),
      (B_POS_RANGE, B_POS_PROFILE, B_POS_MEAN, B_POS_SEM, B_POS_POINTS),
      (525.7, 11, [('IDH', 'italic'), (' R132 mutation', 'normal')]), ('B', 355, 15), (375.7, 390, 92), (642, 85, 96),
      brackets=B_BRACKET_Y, stars=B_STARS)
panel((52.7, 274, 241, 379.7), 376.3, 14.7, [0, 2, 4, 6, 8],
      (C_NEG_RANGE, C_NEG_PROFILE, C_NEG_MEAN, C_NEG_SEM, NEG_POINTS),
      (C_POS_RANGE, C_POS_PROFILE, C_POS_MEAN, C_POS_SEM, C_POS_POINTS),
      (162.7, 232.7, [('IDH', 'italic'), (' R140 mutation', 'normal')]), ('C', 4, 227), (10.7, 26.7, 308), (279, 302.3, 313))
panel((417.7, 637, 241.7, 380.3), 377, 13.75, [0, 2, 4, 6, 8],
      (D_NEG_RANGE, D_NEG_PROFILE, D_NEG_MEAN, D_NEG_SEM, NEG_POINTS),
      (D_POS_RANGE, D_POS_PROFILE, D_POS_MEAN, D_POS_SEM, D_POS_POINTS),
      (529, 232.7, [('RAS', 'italic'), (' mutation', 'normal')]), ('D', 354, 227.5), (375.7, 391, 310), (642, 303, 314),
      brackets=D_BRACKET_Y, stars=D_STARS)
panel((53.3, 273.3, 462.7, 601.7), 598.3, 13.75, [0, 2, 4, 6, 8],
      (E_NEG_RANGE, E_NEG_PROFILE, E_NEG_MEAN, E_NEG_SEM, NEG_POINTS),
      (E_POS_RANGE, E_POS_PROFILE, E_POS_MEAN, E_POS_SEM, E_POS_POINTS),
      (161.7, 454.7, [('NPM1', 'italic'), (' mutation', 'normal')]), ('E', 6, 445), (11.7, 27.3, 531.7), (277, 524, 535),
      brackets=E_BRACKET_Y, stars=E_STARS)
panel((421, 643.7, 460, 599.3), 596, 11.77, [0, 2, 4, 6, 8, 10],
      (F_NEG_RANGE, F_NEG_PROFILE, F_NEG_MEAN, F_NEG_SEM, F_NEG_POINTS),
      (F_POS_RANGE, F_POS_PROFILE, F_POS_MEAN, F_POS_SEM, F_POS_POINTS),
      (530, 454.7, [('TCGA + GTEx', 'normal')]), ('F', 356, 445), (371.7, 387.7, 528), (649, 521.7, 532.3),
      names=('Normal', 'Tumor'), brackets=F_BRACKET_Y, stars=F_STARS)

# ---- volcano
ax = base_axes(205.3, 484.3, 710, 839, 835.7, 5.87)
ax.set_xlim((205.3-345)/17.67, (484.3-345)/17.67)
gx = [x for x, ys in zip(GREY_X, GREY_Y) for _ in ys] + GREY_EXTRA_X
gy = [y for ys in GREY_Y for y in ys] + GREY_EXTRA_Y
ax.scatter(gx, gy, s=8, color=GREY, lw=0, zorder=1)
ux = [x for x, ys in zip(UP_DENSE_X, UP_DENSE_Y) for _ in ys] + UP_SCATTER_X
uy = [y for ys in UP_DENSE_Y for y in ys] + UP_SCATTER_Y
ax.scatter(ux, uy, s=11, color=RED, lw=0, zorder=2)
dx = [x for x, ys in zip(DOWN_DENSE_X, DOWN_DENSE_Y) for _ in ys] + DOWN_SCATTER_X
dy = [y for ys in DOWN_DENSE_Y for y in ys] + DOWN_SCATTER_Y
ax.scatter(dx, dy, s=11, color=BLUE, lw=0, zorder=2)
for c in FC_CUTS:
    ax.axvline(c, color='#999999', lw=1, dashes=(5, 3), zorder=3)
ax.axhline(P_CUT, color='#999999', lw=1, dashes=(5, 3), zorder=3)
ax.scatter([AIM2_FC], [AIM2_P], s=10, fc='none', ec='#222222', lw=.7, zorder=5)
ax.plot([AIM2_FC-.5, AIM2_FC-.15], [AIM2_P-.05, AIM2_P-.02], color='#222222', lw=.7, zorder=5)
ax.text(AIM2_FC-.6, AIM2_P-.25, 'AIM2', ha='right', va='center', fontsize=8.3, color='#222222', zorder=5)
ax.set_xticks([-4, 0, 4]); ax.set_xticklabels(['\u22124', '0', '4'])
ax.set_yticks([0, 5, 10, 15, 20])
ov.text(157, 680, 'G', ha='left', va='center', fontsize=13, color='#111111')
mixed_title(353, 685, [('Pediatric AML ', 'normal'), ('vs.', 'italic'), (' normal subject', 'normal')])
for dotx, textx, c, nm in ((279.3, 287.3, RED, 'Up'), (315.3, 322, GREY, 'Not sig'), (376.7, 384.7, BLUE, 'Down')):
    ov.scatter([dotx], [700.7], s=13, color=c, ec='#333333', lw=.3)
    ov.text(textx, 701, nm, ha='left', va='center', fontsize=FS, color=TXT)
ov.text(353, 871.5, 'Log$_{2}$(fold change)', ha='center', va='center', fontsize=FS, color=TXT)
ov.text(170.7, 775, '\u2212Log$_{10}$(P adj.)', rotation=90, ha='center', va='center', fontsize=FS, color=TXT)

fig.savefig('out.png', dpi=100)
